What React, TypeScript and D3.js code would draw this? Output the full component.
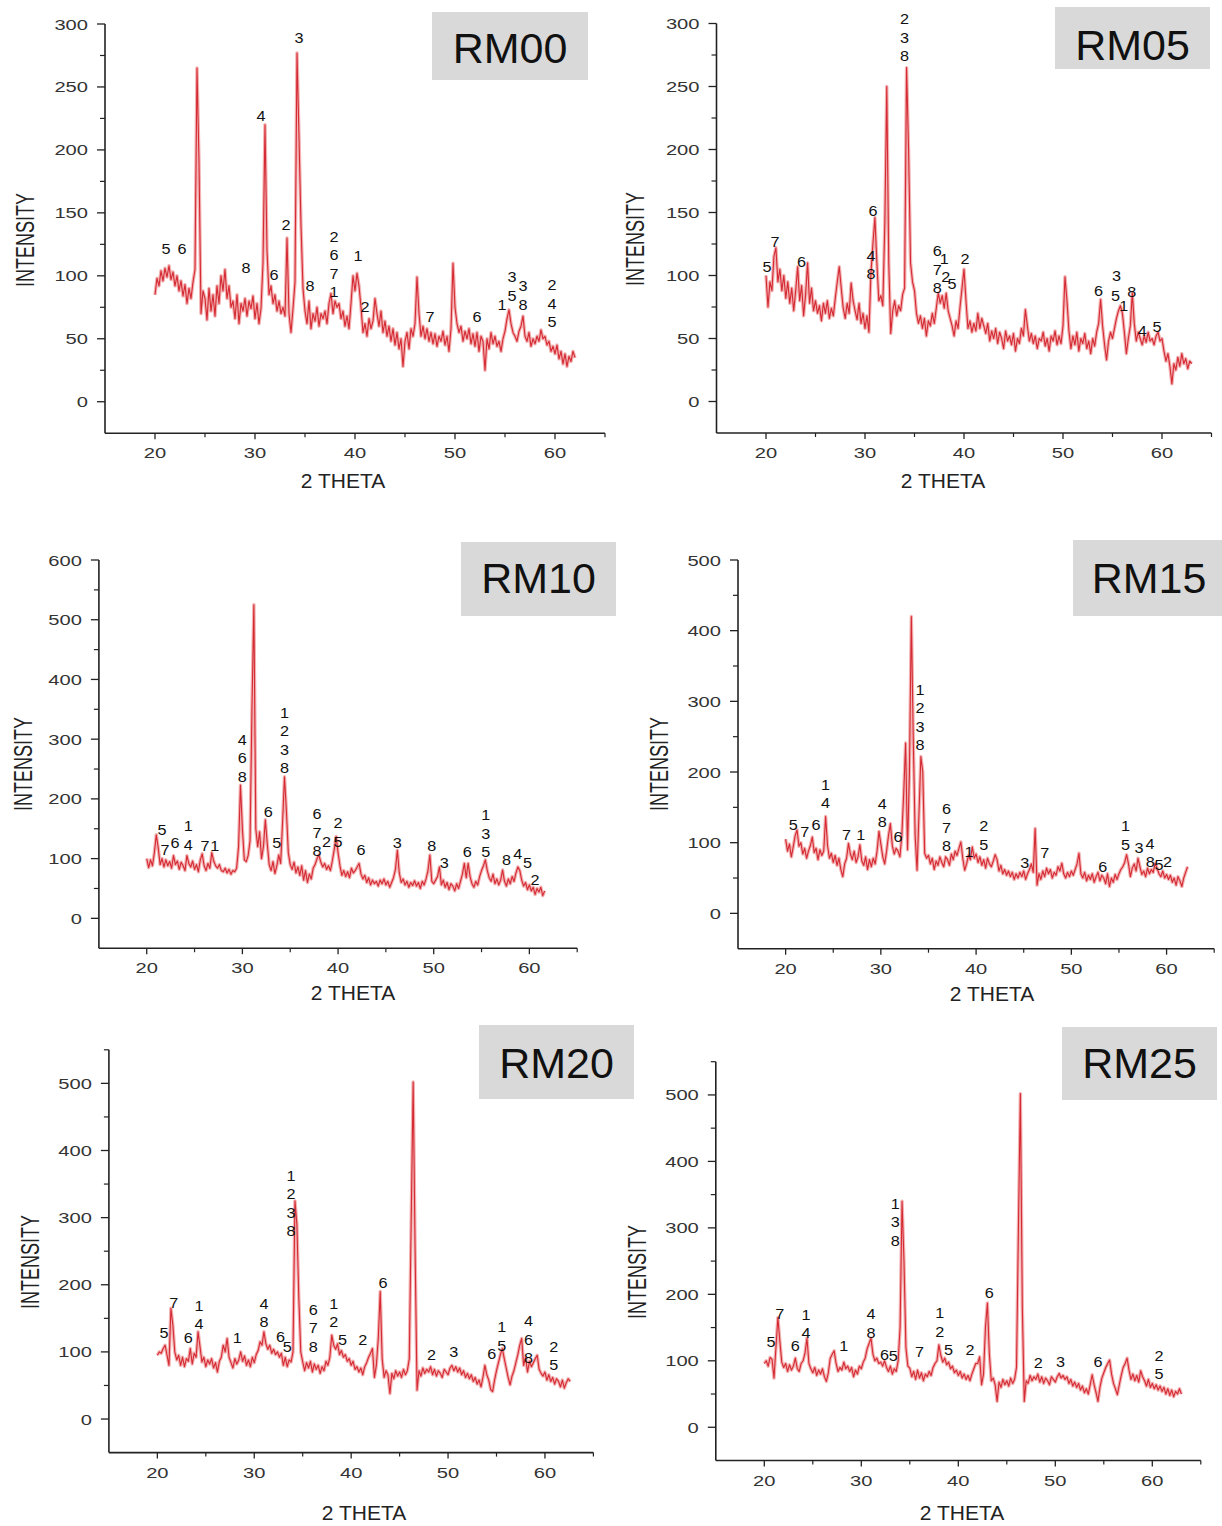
import React from 'react';
import * as d3 from 'd3';

// 2θ grid: each row is one degree starting at 20°, values every 0.2°
const THETA_START = 20;
const THETA_STEP = 0.2;
const X_DOMAIN: [number, number] = [15, 65];
const X_MAJOR = [20, 30, 40, 50, 60];
const X_MINOR = [25, 35, 45, 55, 65];

const rm00Rows: number[][] = [
  [85, 98, 92, 104, 96], [106, 99, 108, 97, 103], [92, 100, 88, 96, 84], [93, 78, 90, 82, 95],
  [105, 265, 190, 70, 88], [82, 65, 90, 72, 85], [68, 92, 78, 100, 88], [105, 82, 92, 75, 80],
  [66, 85, 62, 78, 72], [82, 68, 80, 74, 84], [66, 78, 62, 74, 110], [220, 120, 85, 92, 78],
  [85, 72, 80, 70, 75], [68, 130, 70, 55, 74], [95, 277, 210, 140, 90], [72, 62, 80, 58, 70],
  [64, 75, 60, 70, 66], [72, 62, 78, 86, 70], [80, 75, 78, 66, 72], [60, 68, 58, 78, 100],
  [88, 102, 92, 75, 55], [62, 52, 66, 58, 64], [82, 70, 60, 72, 55], [64, 52, 60, 48, 58],
  [45, 55, 42, 50, 28], [48, 55, 42, 58, 52], [62, 99, 70, 52, 60], [50, 58, 48, 55, 46],
  [54, 44, 52, 48, 56], [45, 52, 40, 58, 110], [75, 62, 55, 60, 48], [56, 50, 58, 46, 54],
  [44, 55, 40, 52, 48], [25, 50, 42, 55, 46], [52, 44, 48, 40, 50], [56, 66, 73, 62, 55],
  [52, 48, 56, 60, 68], [52, 48, 55, 44, 50], [46, 52, 48, 57, 50], [52, 45, 48, 40, 44],
  [38, 45, 34, 40, 30], [38, 28, 36, 32, 40], [35],
];

const rm05Rows: number[][] = [
  [100, 75, 95, 88, 115], [122, 95, 105, 88, 100], [82, 95, 78, 90, 72], [88, 107, 80, 92, 68],
  [85, 110, 78, 90, 72], [80, 70, 76, 64, 78], [70, 80, 66, 74, 68], [82, 95, 107, 90, 74],
  [66, 78, 70, 94, 80], [72, 65, 78, 62, 70], [58, 68, 55, 102, 125], [146, 110, 80, 84, 76],
  [140, 250, 110, 54, 72], [80, 68, 76, 72, 85], [90, 265, 200, 110, 95], [88, 70, 62, 68, 58],
  [66, 52, 64, 60, 70], [62, 74, 86, 78, 84], [74, 86, 72, 66, 60], [52, 64, 58, 75, 90],
  [105, 80, 58, 64, 55], [62, 56, 70, 58, 66], [60, 54, 62, 48, 56], [50, 58, 46, 55, 50],
  [42, 56, 48, 52, 45], [54, 40, 50, 46, 58], [52, 73, 60, 48, 54], [46, 52, 42, 50, 48],
  [55, 44, 50, 40, 52], [48, 56, 45, 52, 46], [60, 99, 80, 56, 42], [52, 45, 55, 40, 50],
  [46, 54, 42, 48, 38], [50, 44, 55, 62, 81], [60, 45, 33, 48, 55], [50, 58, 66, 72, 76],
  [70, 55, 38, 50, 60], [86, 62, 48, 55, 50], [45, 52, 47, 55, 48], [50, 45, 52, 55, 48],
  [50, 40, 32, 38, 28], [14, 30, 25, 35, 28], [38, 30, 34, 26, 32], [30],
];

const rm10Rows: number[][] = [
  [100, 85, 98, 88, 110], [140, 118, 90, 100, 86], [98, 88, 95, 84, 105], [90, 96, 82, 94, 88],
  [80, 105, 92, 86, 96], [82, 90, 78, 98, 108], [88, 80, 92, 84, 110], [96, 88, 84, 90, 80],
  [78, 84, 76, 82, 74], [80, 78, 84, 120, 223], [150, 98, 95, 105, 130], [350, 525, 150, 120, 145],
  [100, 120, 165, 125, 90], [80, 95, 75, 88, 106], [92, 160, 237, 180, 110], [90, 82, 94, 76, 86],
  [72, 88, 64, 80, 60], [74, 66, 84, 90, 100], [106, 94, 86, 92, 82], [88, 80, 96, 115, 137],
  [110, 88, 72, 80, 70], [78, 68, 84, 76, 80], [86, 92, 74, 66, 72], [60, 68, 56, 64, 58],
  [62, 54, 64, 58, 66], [56, 62, 52, 60, 68], [82, 114, 76, 60, 66], [56, 62, 52, 60, 55],
  [63, 54, 60, 50, 62], [56, 66, 80, 106, 62], [58, 64, 70, 86, 56], [64, 52, 60, 48, 58],
  [54, 46, 58, 50, 62], [74, 92, 68, 92, 70], [58, 52, 62, 56, 70], [80, 88, 98, 80, 68],
  [62, 74, 58, 66, 56], [64, 81, 62, 54, 66], [58, 70, 62, 76, 86], [80, 64, 54, 60, 48],
  [56, 46, 52, 40, 50], [44, 52, 38, 46],
];

const rm15Rows: number[][] = [
  [105, 88, 98, 80, 94], [110, 118, 95, 100, 84], [92, 78, 88, 96, 108], [86, 92, 76, 90, 82],
  [88, 137, 96, 78, 85], [72, 82, 68, 78, 62], [52, 70, 78, 99, 84], [76, 88, 72, 80, 97],
  [74, 68, 80, 62, 76], [66, 78, 70, 88, 116], [98, 80, 70, 88, 110], [127, 96, 84, 92, 88],
  [80, 110, 170, 241, 90], [200, 420, 250, 110, 61], [140, 222, 200, 85, 78], [82, 70, 78, 62, 74],
  [68, 80, 72, 66, 80], [76, 68, 84, 76, 88], [82, 92, 101, 78, 61], [70, 82, 76, 94, 78],
  [84, 72, 80, 68, 76], [64, 78, 70, 66, 74], [83, 76, 60, 68, 56], [62, 54, 60, 52, 58],
  [48, 56, 50, 58, 52], [60, 48, 56, 62, 70], [58, 120, 40, 56, 48], [60, 52, 64, 56, 62],
  [50, 58, 54, 66, 60], [71, 56, 50, 58, 52], [60, 54, 62, 70, 85], [56, 50, 58, 46, 54],
  [48, 56, 44, 52, 58], [46, 54, 50, 42, 56], [38, 50, 44, 55, 48], [56, 62, 66, 72, 83],
  [70, 52, 64, 70, 60], [78, 66, 55, 60, 52], [64, 56, 62, 58, 71], [64, 56, 52, 60, 50],
  [55, 48, 54, 44, 50], [40, 52, 46, 38, 50], [58, 66],
];

const rm20Rows: number[][] = [
  [95, 100, 98, 105, 110], [95, 80, 165, 140, 100], [88, 95, 80, 92, 78], [90, 86, 105, 82, 98],
  [92, 130, 108, 85, 92], [78, 88, 82, 90, 76], [84, 70, 86, 92, 110], [100, 120, 92, 84, 76],
  [90, 82, 88, 100, 86], [94, 80, 88, 78, 92], [84, 96, 102, 115, 110], [130, 112, 104, 110, 98],
  [104, 96, 100, 92, 98], [80, 92, 78, 88, 85], [100, 325, 290, 180, 100], [85, 72, 84, 76, 86],
  [70, 82, 74, 80, 68], [78, 72, 86, 80, 92], [125, 110, 104, 112, 96], [102, 92, 96, 86, 90],
  [80, 86, 74, 78, 70], [76, 66, 78, 84, 92], [98, 105, 62, 80, 120], [190, 90, 62, 72, 66],
  [38, 68, 60, 72, 64], [70, 62, 74, 66, 72], [90, 300, 502, 250, 43], [72, 64, 76, 68, 74],
  [70, 78, 66, 74, 64], [72, 68, 62, 74, 70], [66, 76, 80, 72, 78], [70, 76, 66, 72, 62],
  [68, 60, 66, 56, 62], [52, 58, 48, 62, 80], [66, 58, 44, 41, 58], [72, 84, 96, 105, 90],
  [76, 62, 51, 64, 72], [84, 96, 110, 120, 80], [92, 70, 86, 78, 84], [90, 95, 74, 68, 64],
  [70, 58, 66, 56, 62], [52, 60, 56, 48, 58], [46, 54, 60, 56],
];

const rm25Rows: number[][] = [
  [96, 100, 92, 105, 102], [74, 120, 165, 130, 98], [90, 96, 84, 94, 86], [92, 104, 88, 84, 96],
  [100, 112, 134, 96, 88], [82, 90, 78, 86, 80], [88, 76, 69, 82, 104], [110, 115, 96, 84, 90],
  [86, 98, 88, 92, 84], [90, 76, 86, 80, 92], [88, 98, 104, 118, 126], [134, 110, 100, 104, 96],
  [98, 92, 100, 90, 84], [92, 80, 88, 84, 100], [150, 340, 250, 120, 92], [89, 76, 84, 72, 86],
  [74, 82, 70, 80, 76], [84, 78, 90, 96, 100], [124, 108, 98, 104, 94], [98, 88, 92, 82, 86],
  [78, 84, 74, 80, 72], [78, 70, 80, 88, 96], [96, 106, 64, 80, 150], [187, 110, 70, 74, 64],
  [39, 68, 60, 72, 64], [70, 62, 74, 66, 72], [90, 300, 502, 180, 39], [70, 66, 78, 70, 76],
  [72, 80, 68, 76, 66], [74, 70, 64, 76, 72], [68, 76, 81, 74, 78], [72, 76, 66, 72, 62],
  [68, 60, 66, 56, 62], [52, 58, 50, 64, 79], [64, 52, 39, 60, 74], [82, 90, 96, 101, 80],
  [66, 58, 49, 64, 78], [90, 96, 104, 86, 72], [80, 70, 78, 68, 85], [76, 70, 62, 72, 60],
  [66, 58, 64, 56, 62], [54, 60, 50, 58, 48], [56, 46, 54, 50, 58], [50],
];

// peak annotations: [2θ, intensity of bottom line, stacked lines]
type PeakLabel = [number, number, string[]];

const rm00Labels: PeakLabel[] = [
  [21.1, 117, ['5']], [22.7, 117, ['6']], [29.1, 102, ['8']], [30.6, 223, ['4']], [31.9, 97, ['6']],
  [33.1, 136, ['2']], [34.4, 285, ['3']], [35.5, 88, ['8']], [37.9, 83, ['2', '6', '7', '1']],
  [40.3, 112, ['1']], [41.0, 71, ['2']], [47.5, 63, ['7']], [52.2, 63, ['6']], [54.7, 73, ['1']],
  [55.7, 80, ['3', '5']], [56.8, 73, ['3', '8']], [59.7, 59, ['2', '4', '5']],
];
const rm05Labels: PeakLabel[] = [
  [20.1, 103, ['5']], [20.9, 123, ['7']], [23.6, 107, ['6']], [30.6, 97, ['4', '8']], [30.8, 147, ['6']],
  [34.0, 270, ['2', '3', '8']], [37.3, 86, ['6', '7', '8']], [38.0, 109, ['1']], [38.15, 95, ['2']],
  [38.8, 89, ['5']], [40.1, 109, ['2']], [53.6, 84, ['6']], [55.4, 96, ['3']], [55.3, 80, ['5']],
  [56.15, 72, ['1']], [56.95, 83, ['8']], [58.0, 52, ['4']], [59.5, 55, ['5']],
];
const rm10Labels: PeakLabel[] = [
  [21.6, 140, ['5']], [21.9, 106, ['7']], [22.95, 117, ['6']], [24.35, 115, ['1', '4']], [26.1, 112, ['7']],
  [27.1, 112, ['1']], [30.0, 229, ['4', '6', '8']], [34.4, 243, ['1', '2', '3', '8']], [32.7, 170, ['6']],
  [33.6, 117, ['5']], [37.8, 104, ['6', '7', '8']], [38.8, 120, ['2']], [40.0, 120, ['2', '5']],
  [42.4, 106, ['6']], [46.2, 117, ['3']], [49.8, 112, ['8']], [51.1, 84, ['3']], [53.5, 102, ['6']],
  [55.45, 102, ['1', '3', '5']], [57.6, 89, ['8']], [58.8, 100, ['4']], [59.8, 85, ['5']], [60.6, 56, ['2']],
];
const rm15Labels: PeakLabel[] = [
  [20.8, 118, ['5']], [22.0, 108, ['7']], [23.2, 118, ['6']], [24.2, 149, ['1', '4']], [26.4, 104, ['7']],
  [27.9, 104, ['1']], [30.15, 122, ['4', '8']], [31.8, 101, ['6']], [34.1, 231, ['1', '2', '3', '8']],
  [36.9, 88, ['6', '7', '8']], [39.25, 80, ['1']], [40.8, 90, ['2', '5']], [45.1, 64, ['3']], [47.2, 78, ['7']],
  [53.3, 59, ['6']], [55.7, 90, ['1', '5']], [57.1, 85, ['3']], [58.25, 91, ['4']], [58.3, 66, ['8']],
  [59.2, 61, ['5']], [60.1, 66, ['2']],
];
const rm20Labels: PeakLabel[] = [
  [20.7, 120, ['5']], [21.7, 166, ['7']], [23.2, 113, ['6']], [24.3, 134, ['1', '4']], [28.25, 114, ['1']],
  [31.0, 137, ['4', '8']], [32.7, 115, ['6']], [33.4, 100, ['5']], [33.8, 272, ['1', '2', '3', '8']],
  [36.1, 100, ['6', '7', '8']], [38.2, 137, ['1', '2']], [39.1, 110, ['5']], [41.2, 110, ['2']],
  [43.3, 195, ['6']], [48.3, 88, ['2']], [50.6, 92, ['3']], [54.5, 90, ['6']], [55.55, 102, ['1', '5']],
  [58.3, 83, ['4', '6', '8']], [60.9, 73, ['2', '5']],
];
const rm25Labels: PeakLabel[] = [
  [20.7, 121, ['5']], [21.6, 163, ['7']], [23.2, 114, ['6']], [24.3, 134, ['1', '4']], [28.2, 114, ['1']],
  [31.0, 135, ['4', '8']], [32.4, 101, ['6']], [33.3, 99, ['5']], [33.5, 273, ['1', '3', '8']],
  [36.0, 106, ['7']], [38.1, 136, ['1', '2']], [39.0, 109, ['5']], [41.2, 109, ['2']], [43.2, 194, ['6']],
  [48.25, 89, ['2']], [50.55, 91, ['3']], [54.4, 91, ['6']], [60.7, 72, ['2', '5']],
];

const yTicks300 = [0, 50, 100, 150, 200, 250, 300];
const yMinor300 = [25, 75, 125, 175, 225, 275];
const yTicks600 = [0, 100, 200, 300, 400, 500, 600];
const yMinor600 = [50, 150, 250, 350, 450, 550];
const yTicks500 = [0, 100, 200, 300, 400, 500];
const yMinor500 = [50, 150, 250, 350, 450];
const yMinor550 = [50, 150, 250, 350, 450, 550];

const sampleNames = ['RM00', 'RM05', 'RM10', 'RM15', 'RM20', 'RM25'];

interface PanelCfg {
  name: string;
  rows: number[][];
  labels: PeakLabel[];
  xRange: [number, number];
  yDomain: [number, number];
  yRange: [number, number];
  yMajor: number[];
  yMinor: number[];
  box: [number, number, number, number];
  nameBaseline: number;
  yTitle: [number, number];
  xTitle: [number, number];
}

const panels: PanelCfg[] = [
  { name: sampleNames[0], rows: rm00Rows, labels: rm00Labels, xRange: [105, 605], yDomain: [-25, 300], yRange: [433.2, 24],
    yMajor: yTicks300, yMinor: yMinor300, box: [432, 12, 156, 68], nameBaseline: 63, yTitle: [25, 240], xTitle: [343, 488] },
  { name: sampleNames[1], rows: rm05Rows, labels: rm05Labels, xRange: [716.5, 1211.5], yDomain: [-25, 300], yRange: [433, 23.5],
    yMajor: yTicks300, yMinor: yMinor300, box: [1055, 7, 155, 62], nameBaseline: 60, yTitle: [635, 239], xTitle: [943, 488] },
  { name: sampleNames[2], rows: rm10Rows, labels: rm10Labels, xRange: [98.9, 577.2], yDomain: [-50, 600], yRange: [948.2, 560],
    yMajor: yTicks600, yMinor: yMinor600, box: [461, 542, 155, 74], nameBaseline: 593, yTitle: [23, 764], xTitle: [353, 1000] },
  { name: sampleNames[3], rows: rm15Rows, labels: rm15Labels, xRange: [738, 1214.2], yDomain: [-50, 500], yRange: [948.7, 560],
    yMajor: yTicks500, yMinor: yMinor500, box: [1073, 540, 152, 76], nameBaseline: 593, yTitle: [659, 764], xTitle: [992, 1001] },
  { name: sampleNames[4], rows: rm20Rows, labels: rm20Labels, xRange: [108.9, 593.4], yDomain: [-50, 550], yRange: [1452.6, 1049.8],
    yMajor: yTicks500, yMinor: yMinor550, box: [479, 1025, 155, 74], nameBaseline: 1078, yTitle: [30, 1262], xTitle: [364, 1520] },
  { name: sampleNames[5], rows: rm25Rows, labels: rm25Labels, xRange: [715.8, 1200.8], yDomain: [-50, 550], yRange: [1460.5, 1061.7],
    yMajor: yTicks500, yMinor: yMinor550, box: [1062, 1027, 155, 73], nameBaseline: 1078, yTitle: [637, 1272], xTitle: [962, 1520] },
];

const FONT = "'Liberation Sans', Arial, sans-serif";
const AXIS = '#222';

function PanelView({ p }: { p: PanelCfg }) {
  const x = d3.scaleLinear().domain(X_DOMAIN).range(p.xRange);
  const y = d3.scaleLinear().domain(p.yDomain).range(p.yRange);
  const pts: [number, number][] = [];
  p.rows.forEach((row, r) => row.forEach((v, c) => pts.push([THETA_START + r + c * THETA_STEP, v])));
  const line = d3.line<[number, number]>().x(d => x(d[0])).y(d => y(d[1]));
  const path = line(pts) || '';
  const ax = p.xRange[0];
  const ay = p.yRange[0];
  const yTop = p.yRange[1];
  const xEnd = p.xRange[1];
  return (
    <g>
      {/* sample name box */}
      <rect x={p.box[0]} y={p.box[1]} width={p.box[2]} height={p.box[3]} fill="#d9d9d9" />
      <text x={p.box[0] + p.box[2] / 2} y={p.nameBaseline} textAnchor="middle" fontFamily={FONT} fontSize={43} fill="#111">{p.name}</text>

      {/* trace */}
      <path d={path} fill="none" stroke="#f1a3a5" strokeWidth={3.4} strokeLinejoin="round" opacity={0.85} />
      <path d={path} fill="none" stroke="#d42a33" strokeWidth={1.1} strokeLinejoin="round" />

      {/* axes */}
      <line x1={ax} x2={ax} y1={yTop} y2={ay} stroke={AXIS} strokeWidth={1.6} />
      <line x1={ax} x2={xEnd} y1={ay} y2={ay} stroke={AXIS} strokeWidth={1.6} />
      {p.yMajor.map(t => (
        <g key={'ym' + t}>
          <line x1={ax - 8} x2={ax} y1={y(t)} y2={y(t)} stroke={AXIS} strokeWidth={1.3} />
          <text transform={`translate(${ax - 17},${y(t) + 5.5}) scale(1.3,1)`} textAnchor="end" fontFamily={FONT} fontSize={15.5} fill="#333">{t}</text>
        </g>
      ))}
      {p.yMinor.map(t => (
        <line key={'yn' + t} x1={ax - 5} x2={ax} y1={y(t)} y2={y(t)} stroke={AXIS} strokeWidth={1.2} />
      ))}
      {X_MAJOR.map(t => (
        <g key={'xm' + t}>
          <line x1={x(t)} x2={x(t)} y1={ay} y2={ay + 6} stroke={AXIS} strokeWidth={1.3} />
          <text transform={`translate(${x(t)},${ay + 25}) scale(1.3,1)`} textAnchor="middle" fontFamily={FONT} fontSize={15.5} fill="#333">{t}</text>
        </g>
      ))}
      {X_MINOR.map(t => (
        <line key={'xn' + t} x1={x(t)} x2={x(t)} y1={ay} y2={ay + 4} stroke={AXIS} strokeWidth={1.2} />
      ))}

      {/* axis titles */}
      <text transform={`translate(${p.yTitle[0]},${p.yTitle[1]}) rotate(-90) scale(1,1.45)`} textAnchor="middle" dominantBaseline="central"
        fontFamily={FONT} fontSize={18} fill="#222">INTENSITY</text>
      <text x={p.xTitle[0]} y={p.xTitle[1]} textAnchor="middle" fontFamily={FONT} fontSize={21} fill="#222">2 THETA</text>

      {/* peak labels */}
      {p.labels.map((l, i) => (
        <g key={'pl' + i}>
          {l[2].map((s, k) => (
            <text key={k} transform={`translate(${x(l[0])},${y(l[1]) - (l[2].length - 1 - k) * 18.5}) scale(1.12,1)`}
              textAnchor="middle" fontFamily={FONT} fontSize={14.5} fill="#111">{s}</text>
          ))}
        </g>
      ))}
    </g>
  );
}

export default function App() {
  return (
    <svg width={1222} height={1526} viewBox="0 0 1222 1526"
      style={{ position: 'absolute', left: 0, top: 0, background: '#fff', display: 'block' }}>
      <rect x={0} y={0} width={1222} height={1526} fill="#fff" />
      {panels.map(p => <PanelView key={p.name} p={p} />)}
    </svg>
  );
}
